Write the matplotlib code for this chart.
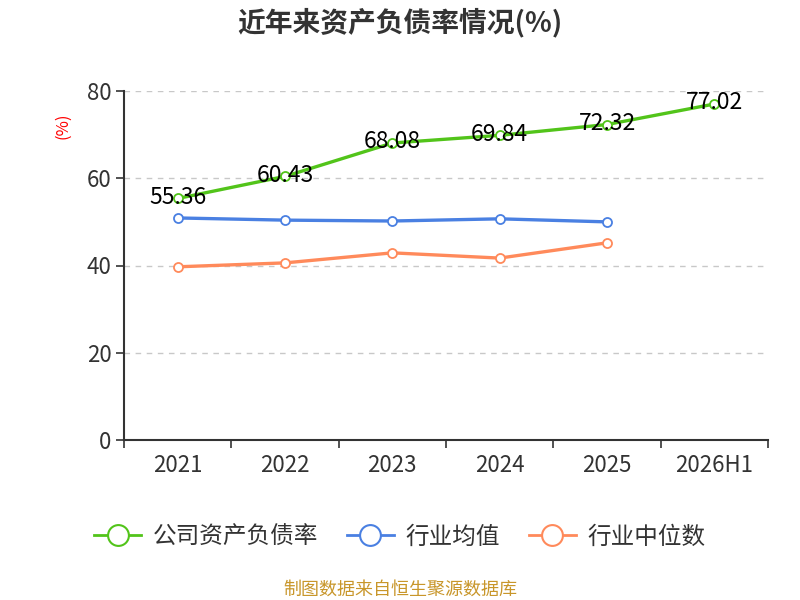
import matplotlib
matplotlib.use("Agg")
import matplotlib.pyplot as plt
from matplotlib.lines import Line2D

plt.rcParams['font.family'] = ['Noto Sans CJK SC', 'DejaVu Sans']

categories = ['2021', '2022', '2023', '2024', '2025', '2026H1']
company = [55.36, 60.43, 68.08, 69.84, 72.32, 77.02]
ind_mean = [50.9, 50.4, 50.2, 50.7, 50.0]
ind_median = [39.7, 40.6, 42.9, 41.7, 45.2]
yticks = [0, 20, 40, 60, 80]

green = '#52c41a'
blue = '#4a80e2'
orange = '#ff8a5b'

fig = plt.figure(figsize=(8, 6), dpi=100)
ax = fig.add_axes([0.155, 0.2667, 0.805, 0.5816])

x = list(range(len(categories)))
mk = dict(marker='o', markersize=6.5, markerfacecolor='white', markeredgewidth=1.3, linewidth=2.4, clip_on=False, zorder=3)
ax.plot(x, company, color=green, **mk)
ax.plot(x[:len(ind_mean)], ind_mean, color=blue, **mk)
ax.plot(x[:len(ind_median)], ind_median, color=orange, **mk)

for xi, v in zip(x, company):
    ax.text(xi, v + 0.3, f'{v:.2f}', ha='center', va='center', fontsize=16.5, color='black', zorder=4)

ax.set_xlim(-0.5, len(categories) - 0.5)
ax.set_ylim(0, 80)
ax.set_yticks(yticks)
ax.set_yticklabels([str(t) for t in yticks], fontsize=16, color='#333333')
ax.set_xticks(x)
ax.set_xticklabels(categories, fontsize=16, color='#333333')
ax.set_xticks([i - 0.5 for i in range(len(categories) + 1)], minor=True)
ax.tick_params(axis='x', which='major', length=0, pad=10)
ax.tick_params(axis='x', which='minor', length=6, width=1.2, color='#333333')
ax.tick_params(axis='y', length=6, width=1.2, color='#333333', pad=3)
ax.grid(axis='y', linestyle=(0, (4, 4)), color='#c8c8c8', linewidth=1)
for s in ['top', 'right']:
    ax.spines[s].set_visible(False)
for s in ['left', 'bottom']:
    ax.spines[s].set_color('#333333')
    ax.spines[s].set_linewidth(1.5)

fig.text(0.5, 0.962, '近年来资产负债率情况(%)', ha='center', va='center', fontsize=20, fontweight='bold', color='#333333')
fig.text(0.078, 0.79, '(%)', ha='center', va='center', rotation=90, fontsize=12, color='red')

handles = [Line2D([0], [0], color=c, linewidth=2, marker='o', markersize=15, markerfacecolor='white', markeredgewidth=1.5)
           for c in (green, blue, orange)]
fig.legend(handles, ['公司资产负债率', '行业均值', '行业中位数'], loc='center', bbox_to_anchor=(0.5, 0.105),
           ncol=3, frameon=False, fontsize=17, handlelength=2.0, columnspacing=1.2, handletextpad=0.5,
           labelcolor='#333333')

fig.text(0.5, 0.017, '制图数据来自恒生聚源数据库', ha='center', va='center', fontsize=13, color='#c8962a')

fig.savefig('out.png', dpi=100)
